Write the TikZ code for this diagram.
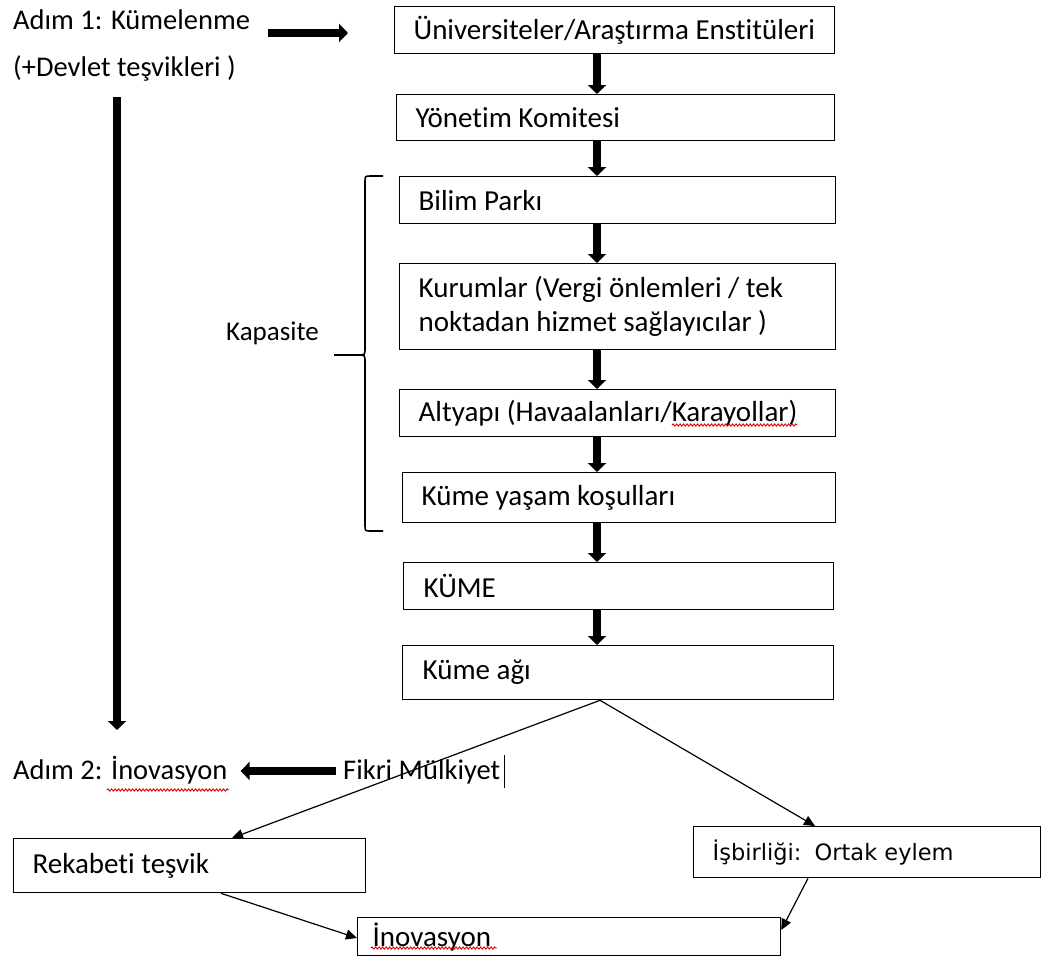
\documentclass[tikz,border=0pt]{standalone}
\usepackage{fontspec}
\setmainfont{Carlito}[Ligatures=NoCommon]
\newfontfamily\verdanalike{DejaVu Sans}
\usetikzlibrary{arrows.meta,decorations.pathmorphing}

\newcommand\bigtxt{\fontsize{29}{34}\selectfont}

\tikzset{
  box/.style={draw, line width=1.3pt, anchor=north west, inner xsep=19pt,
    inner ysep=0pt, align=flush left, font=\bigtxt},
  lbl/.style={anchor=base west, inner sep=0pt, font=\fontsize{28.5}{34}\selectfont},
  fat/.style={line width=7.5pt, -{Triangle[width=18pt,length=9pt]}},
  slim/.style={line width=1.2pt, -{Triangle[width=10pt,length=11pt]}},
  wavy/.style={red!85!black, line width=0.9pt, decorate,
    decoration={snake, amplitude=1.1pt, segment length=3.5pt}}
}

\begin{document}
\begin{tikzpicture}[x=1pt,y=-1pt]
\useasboundingbox (0,0) rectangle (1045,956);

% main chain of boxes
\node[box, minimum width=440pt, minimum height=47pt, text width=402pt] (b1) at (394,6) {Üniversiteler/Araştırma Enstitüleri};
\node[box, minimum width=438pt, minimum height=46pt, text width=400pt] (b2) at (396,94) {Yönetim Komitesi};
\node[box, minimum width=436pt, minimum height=47pt, text width=398pt] (b3) at (399,176) {Bilim Parkı};
\node[box, minimum width=436pt, minimum height=86pt, text width=398pt] (b4) at (399,263) {Kurumlar (Vergi önlemleri / tek\\noktadan hizmet sağlayıcılar )};
\node[box, minimum width=436pt, minimum height=47pt, text width=398pt] (b5) at (399,389) {Altyapı (Havaalanları/Karayollar)};
\node[box, minimum width=433pt, minimum height=50pt, text width=395pt] (b6) at (402,472) {Küme yaşam koşulları};
\node[box, minimum width=430pt, minimum height=47pt, text width=390pt, inner xsep=20pt] (b7) at (403,562) {KÜME};
\node[box, minimum width=431pt, minimum height=54pt, text width=391pt, inner xsep=20pt] (b8) at (402,645) {Küme ağı};

% lower boxes
\node[box, minimum width=352pt, minimum height=54pt, text width=314pt] (rk) at (13,838) {Rekabeti teşvik};
\node[box, minimum width=347pt, minimum height=51pt, text width=309pt, font=\verdanalike\fontsize{22.5}{26}\selectfont] (ib) at (693,826) {İşbirliği:\, Ortak eylem};
\node[box, minimum width=423pt, minimum height=38pt, text width=393pt, inner xsep=15pt] (in) at (357,917) {İnovasyon};

% free labels
\node[lbl] (a1) at (13,29) {Adım 1: Kümelenme};
\node[lbl] (a1b) at (13,76) {(+Devlet teşvikleri )};
\node[lbl, font=\fontsize{27}{32}\selectfont] (kp) at (226,340) {Kapasite};
\node[lbl] (a2) at (13,779) {Adım 2: İnovasyon};
\node[lbl] (fm) at (343,779) {Fikri Mülkiyet};

% helper coordinates for connector alignment
\coordinate (ax) at (597,0);
\coordinate (vx) at (117,0);
\coordinate (r1y) at (0,33);
\coordinate (r2y) at (0,771);
\coordinate (apx) at (600,0);
\coordinate (t1) at (232,0);
\coordinate (t2) at (815,0);
\coordinate (s1) at (221,0);
\coordinate (s2) at (808,0);
\coordinate (e1) at (0,938);
\coordinate (e2) at (0,930);
\coordinate (v1) at (0,97);
\coordinate (v2) at (0,730);

% thick arrows down the chain
\draw[fat] (b1.south -| ax) -- (b2.north -| ax);
\draw[fat] (b2.south -| ax) -- (b3.north -| ax);
\draw[fat] (b3.south -| ax) -- (b4.north -| ax);
\draw[fat] (b4.south -| ax) -- (b5.north -| ax);
\draw[fat] (b5.south -| ax) -- (b6.north -| ax);
\draw[fat] (b6.south -| ax) -- (b7.north -| ax);
\draw[fat] (b7.south -| ax) -- (b8.north -| ax);

% step arrows
\draw[fat, shorten <=18pt, shorten >=46pt] (a1.east |- r1y) -- (b1.west |- r1y);
\draw[fat] (vx |- v1) -- (vx |- v2);
\draw[fat, shorten <=7pt, shorten >=13pt] (fm.west |- r2y) -- (a2.east |- r2y);

% branching arrows
\draw[slim] (b8.south -| apx) -- (rk.north -| t1);
\draw[slim] (b8.south -| apx) -- (ib.north -| t2);
\draw[slim] (rk.south -| s1) -- (in.west |- e1);
\draw[slim] (ib.south -| s2) -- (in.east |- e2);

% brace grouping the capacity boxes
\draw[line width=1.6pt]
  (383,176) -- (371,176) .. controls (365,176) .. (365,182)
  -- (365,348) .. controls (365,355) .. (358,355) -- (334,355)
  (358,355) .. controls (365,355) .. (365,362)
  -- (365,525) .. controls (365,531) .. (371,531) -- (383,531);

% spell-check marks and text cursor
\draw[wavy] (107,790) -- (229,790);
\draw[wavy] (672,425) -- (797,425);
\draw[wavy] (371,948) -- (497,948);
\draw[line width=1.4pt] ([xshift=4pt,yshift=-9pt]fm.base east) -- ([xshift=4pt,yshift=24pt]fm.base east);
\end{tikzpicture}
\end{document}
